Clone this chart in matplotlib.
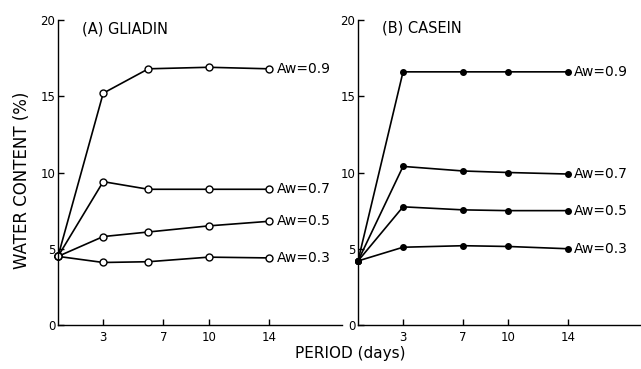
import matplotlib
matplotlib.use("Agg")
import matplotlib.pyplot as plt

# Gliadin: sampled at days 0, 3, 6, 10, 14
gliadin_days = [0, 3, 6, 10, 14]
gliadin_09 = [4.5, 15.2, 16.8, 16.9, 16.8]
gliadin_07 = [4.5, 9.4, 8.9, 8.9, 8.9]
gliadin_05 = [4.5, 5.8, 6.1, 6.5, 6.8]
gliadin_03 = [4.5, 4.1, 4.15, 4.45, 4.4]

# Casein: sampled at days 0, 3, 7, 10, 14
casein_days = [0, 3, 7, 10, 14]
casein_09 = [4.2, 16.6, 16.6, 16.6, 16.6]
casein_07 = [4.2, 10.4, 10.1, 10.0, 9.9]
casein_05 = [4.2, 7.75, 7.55, 7.5, 7.5]
casein_03 = [4.2, 5.1, 5.2, 5.15, 5.0]

aw_labels = ["Aw=0.9", "Aw=0.7", "Aw=0.5", "Aw=0.3"]
x_ticks = [3, 7, 10, 14]
y_ticks = [0, 5, 10, 15, 20]

plt.rcParams['font.family'] = ['DejaVu Sans']

fig = plt.figure(figsize=(6.41, 3.69), dpi=100, facecolor='white')
ax_a = fig.add_axes([0.0905, 0.1192, 0.443, 0.8266])
ax_b = fig.add_axes([0.5585, 0.1192, 0.4415, 0.8266])


def style_axis(ax):
    ax.set_xlim(0, 18.85)
    ax.set_ylim(0, 20)
    ax.spines['top'].set_visible(False)
    ax.spines['right'].set_visible(False)
    ax.spines['left'].set_linewidth(1.0)
    ax.spines['bottom'].set_linewidth(1.0)
    ax.set_xticks(x_ticks)
    ax.set_yticks(y_ticks)
    ax.tick_params(direction='in', length=4, width=1.0, labelsize=8.5)
    ax.tick_params(axis='x', pad=4)
    ax.tick_params(axis='y', pad=2)


style_axis(ax_a)
style_axis(ax_b)

gliadin = [gliadin_09, gliadin_07, gliadin_05, gliadin_03]
casein = [casein_09, casein_07, casein_05, casein_03]

for series, lab in zip(gliadin, aw_labels):
    ax_a.plot(gliadin_days, series, color='black', linewidth=1.2,
              marker='o', markersize=5, markerfacecolor='white',
              markeredgecolor='black', markeredgewidth=1.0, clip_on=False)
    ax_a.annotate(lab, (gliadin_days[-1], series[-1]), xytext=(6, 0),
                  textcoords='offset points', va='center', ha='left',
                  fontsize=10)

for series, lab in zip(casein, aw_labels):
    ax_b.plot(casein_days, series, color='black', linewidth=1.2,
              marker='o', markersize=4, markerfacecolor='black',
              markeredgecolor='black', clip_on=False)
    ax_b.annotate(lab, (casein_days[-1], series[-1]), xytext=(4, 0),
                  textcoords='offset points', va='center', ha='left',
                  fontsize=10)

ax_a.text(1.6, 19.4, "(A) GLIADIN", fontsize=10.5, va='center', ha='left')
ax_b.text(1.6, 19.5, "(B) CASEIN", fontsize=10.5, va='center', ha='left')

fig.text(0.034, 0.51, "WATER CONTENT (%)", rotation=90, fontsize=12,
         va='center', ha='center')
fig.text(0.546, 0.043, "PERIOD (days)", fontsize=11, va='center', ha='center')

fig.savefig('out.png', dpi=100, facecolor='white')
